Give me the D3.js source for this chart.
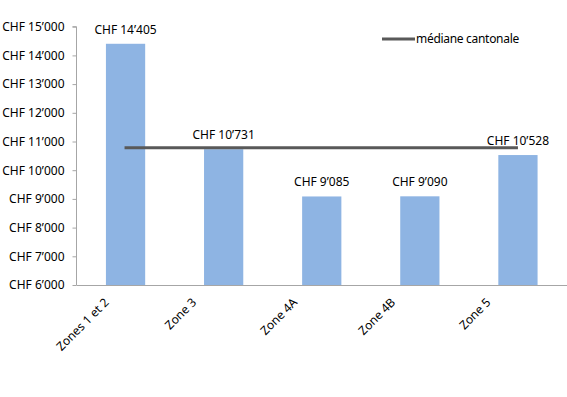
<!DOCTYPE html>
<html>
<head>
<meta charset="utf-8">
<script src="https://cdn.jsdelivr.net/npm/d3@7"></script>
<style>
  html, body { margin: 0; padding: 0; background: #fff; }
  svg { display: block; }
  text { font-family: "Noto Sans", sans-serif; font-size: 12px; fill: #000; }
</style>
</head>
<body>
<svg id="chart" width="567" height="397"></svg>
<script>
const categories = ["Zones 1 et 2", "Zone 3", "Zone 4A", "Zone 4B", "Zone 5"];
const values = [14405, 10731, 9085, 9090, 10528];
const median = 10780;
const yTicks = [6000, 7000, 8000, 9000, 10000, 11000, 12000, 13000, 14000, 15000];
const legendLabel = "médiane cantonale";

const fmt = v => "CHF " + d3.format(",")(v).replace(/,/g, "’");

const svg = d3.select("#chart");
const x = d3.scaleBand().domain(categories).range([76.5, 567]).paddingInner(0.6).paddingOuter(0.3);
const y = d3.scaleLinear().domain([6000, 15000]).range([285, 26.7]);

// y axis
const yAxis = svg.append("g").attr("transform", "translate(76.5,0)")
  .call(d3.axisLeft(y).tickValues(yTicks).tickFormat(fmt).tickSize(4).tickPadding(8));
yAxis.select(".domain").attr("stroke", "#a6a6a6").attr("d", `M-4,${y(15000)}H0V${y(6000)}`);
yAxis.selectAll(".tick line").attr("stroke", "#a6a6a6");
yAxis.selectAll("text").style("font-family", "'Noto Sans', sans-serif").style("font-size", "12px").attr("fill", "#000");

// bars
svg.append("g").selectAll("rect").data(categories).join("rect")
  .attr("x", d => x(d))
  .attr("width", x.bandwidth())
  .attr("y", (d, i) => y(values[i]))
  .attr("height", (d, i) => y(6000) - y(values[i]))
  .attr("fill", "#8eb4e3");

// x axis
const xAxis = svg.append("g").attr("transform", `translate(0,${y(6000)})`)
  .call(d3.axisBottom(x).tickSize(0).tickPadding(0));
xAxis.select(".domain").attr("stroke", "#a6a6a6").attr("d", "M76.5,0.5H567");
const k = Math.SQRT1_2, h = 9;
xAxis.selectAll(".tick text")
  .style("font-family", "'Noto Sans', sans-serif").style("font-size", "12px").attr("fill", "#000")
  .attr("text-anchor", "middle").attr("y", 0).attr("dy", "0.35em")
  .each(function () {
    const L = this.getComputedTextLength();
    const my = 12 + k * (L / 2 + h / 2);
    d3.select(this).attr("transform", `translate(-43,${my}) rotate(-45)`);
  });

// value labels
svg.append("g").selectAll("text").data(categories).join("text")
  .attr("x", d => x(d) + x.bandwidth() / 2)
  .attr("y", (d, i) => y(values[i]) - 10)
  .attr("text-anchor", "middle")
  .text((d, i) => fmt(values[i]));

// median line
svg.append("line")
  .attr("x1", x(categories[0]) + x.bandwidth() / 2 - 1)
  .attr("x2", x(categories[categories.length - 1]) + x.bandwidth() / 2)
  .attr("y1", y(median)).attr("y2", y(median))
  .attr("stroke", "#595959").attr("stroke-width", 3);

// legend
const lg = svg.append("g").attr("transform", "translate(382,39)");
lg.append("line").attr("x1", 0).attr("x2", 33).attr("y1", 0).attr("y2", 0)
  .attr("stroke", "#595959").attr("stroke-width", 3);
lg.append("text").attr("x", 34).attr("y", 0).attr("dy", "0.35em").style("letter-spacing", "-0.3px").text(legendLabel);
</script>
</body>
</html>
